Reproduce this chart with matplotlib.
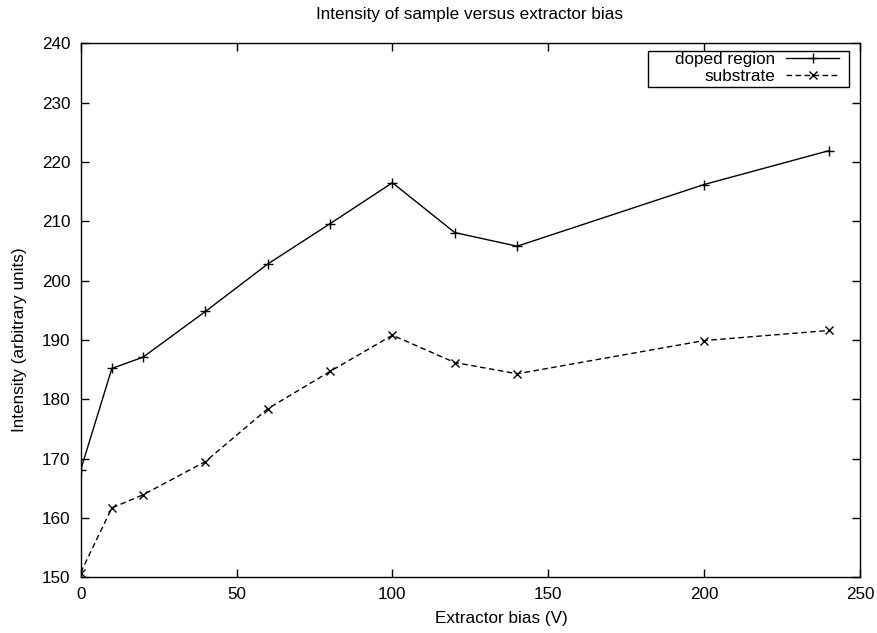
import numpy as np
import matplotlib.pyplot as plt
from matplotlib.patches import Rectangle

plt.rcParams['font.family'] = ['Liberation Sans', 'DejaVu Sans']

bias = [0, 10, 20, 40, 60, 80, 100, 120, 140, 200, 240]
doped = [168.1, 185.2, 187.1, 194.8, 202.8, 209.6, 216.5, 208.1, 205.8, 216.2, 221.9]
substrate = [150.8, 161.7, 163.9, 169.5, 178.4, 184.7, 190.8, 186.2, 184.3, 189.9, 191.6]

W, H = 878, 633
fs = 12.3

fig = plt.figure(figsize=(W / 100, H / 100), dpi=100)
ax = fig.add_axes([80.7 / W, 1 - 577.3 / H, (860 - 80.7) / W, (577.3 - 43.3) / H])

ax.plot(bias, doped, color='black', lw=1.0, marker='+', ms=6.5, mew=1.0,
        label='doped region')
ax.plot(bias, substrate, color='black', lw=1.0, ls=(0, (4, 2.5)), marker='x',
        ms=5.5, mew=1.0, label='substrate')

ax.set_xlim(0, 250)
ax.set_ylim(150, 240)
ax.set_xticks(np.arange(0, 251, 50))
ax.set_yticks(np.arange(150, 241, 10))
ax.tick_params(direction='in', length=6, width=1.0, top=True, right=True,
               labelsize=fs, colors='black')
ax.tick_params(axis='y', pad=7.5)
ax.tick_params(axis='x', pad=7)
for s in ax.spines.values():
    s.set_linewidth(1.0)

# labels and title placed in pixel positions
fig.text(470 / W, 1 - 15 / H, 'Intensity of sample versus extractor bias',
         ha='center', va='center', fontsize=fs)
fig.text(501 / W, 1 - 618 / H, 'Extractor bias (V)',
         ha='center', va='center', fontsize=fs)
fig.text(20 / W, 1 - 340 / H, 'Intensity (arbitrary units)',
         ha='center', va='center', rotation=90, fontsize=fs)

# gnuplot style key
fig.patches.append(Rectangle((648 / W, 1 - 87 / H), 201 / W, 36 / H,
                             transform=fig.transFigure, fill=False,
                             edgecolor='black', lw=1.0))
leg = ax.legend(loc='upper right', bbox_to_anchor=(840 / W, 1 - 51 / H),
                bbox_transform=fig.transFigure, borderaxespad=0,
                markerfirst=False, fontsize=fs, handlelength=3.1,
                handletextpad=0.65, borderpad=0.05, labelspacing=0.12,
                frameon=False)
for t in leg.get_texts():
    t.set_ha('right')

fig.savefig('out.png', dpi=100)
